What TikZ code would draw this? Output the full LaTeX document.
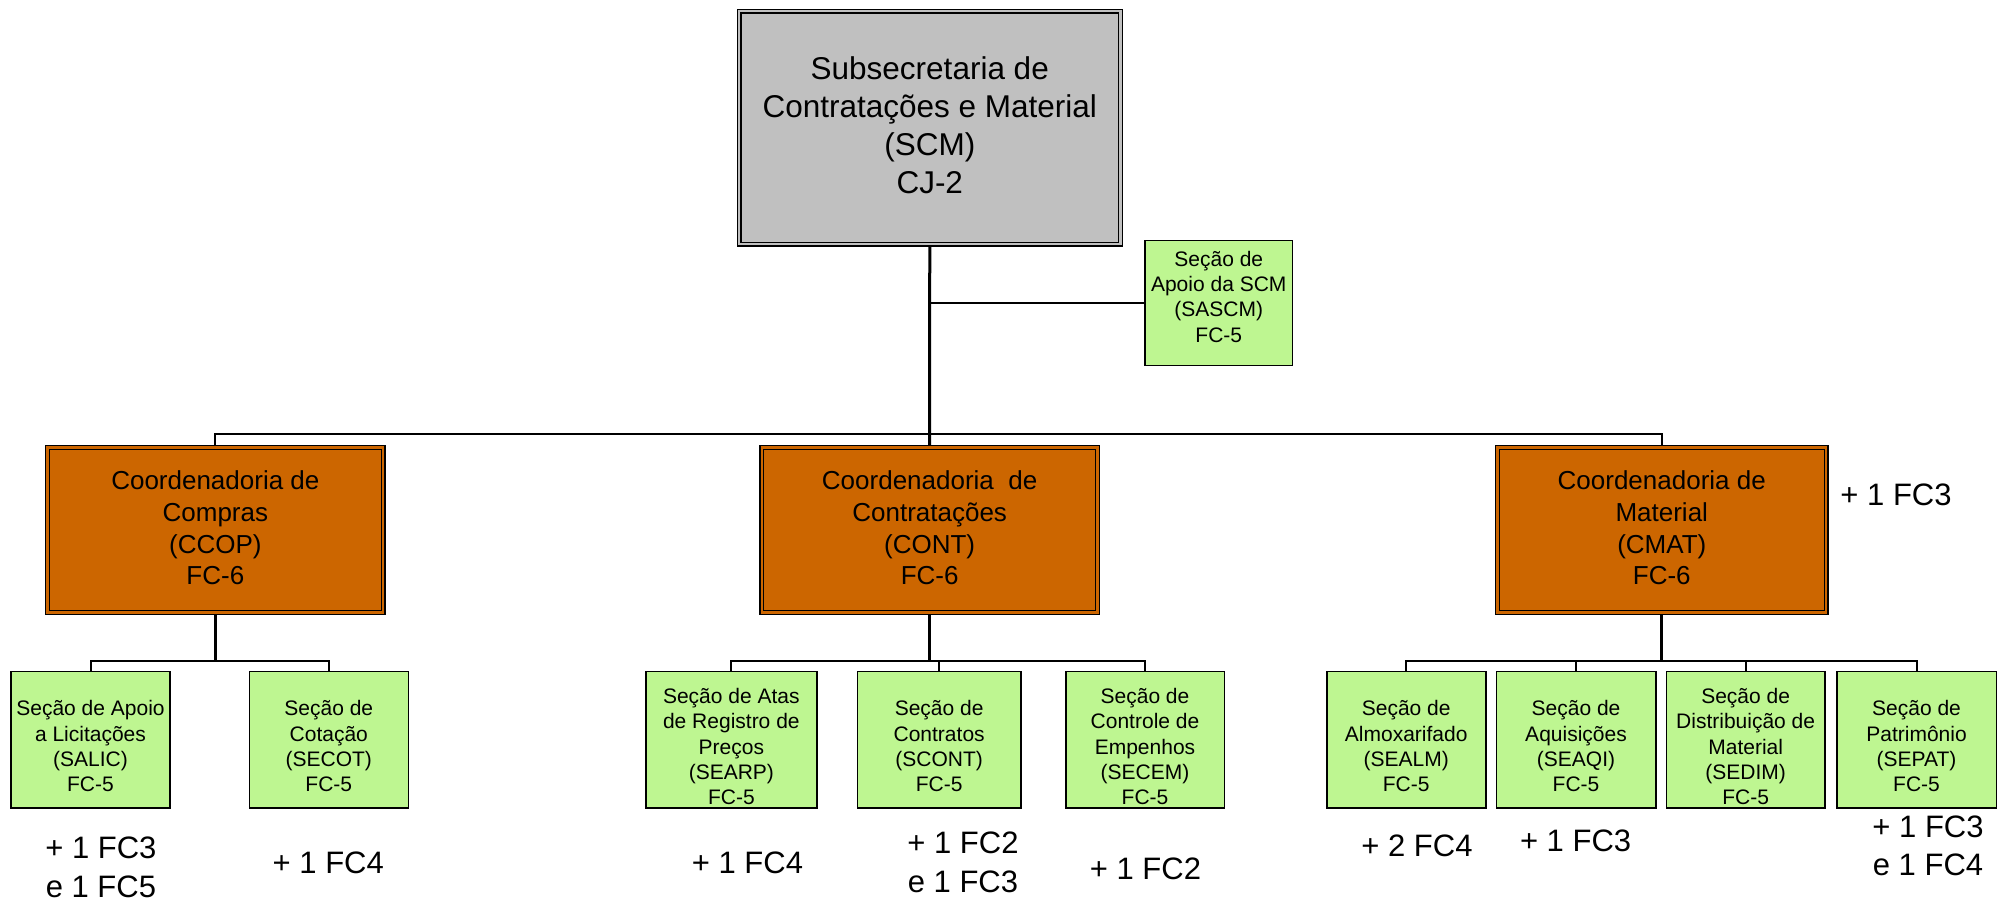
\documentclass[tikz,border=0pt]{standalone}
\usepackage{fontspec}
\setmainfont{Liberation Sans}
\pgfdeclarelayer{bg}
\pgfsetlayers{bg,main}
\definecolor{scmgray}{RGB}{192,192,192}
\definecolor{coordor}{RGB}{204,102,0}
\definecolor{secgreen}{RGB}{190,246,145}
\begin{document}
\begin{tikzpicture}[x=1pt,y=-1pt,
  dbox/.style={rectangle, draw=black, line width=1.3pt, double distance=2.4pt, inner sep=0pt},
  scmbox/.style={dbox, fill=scmgray, double=scmgray},
  coordbox/.style={dbox, fill=coordor, double=coordor, minimum height=165pt},
  secbox/.style={rectangle, draw=black, line width=1.6pt, fill=secgreen, inner sep=0pt, minimum height=136.2pt},
  scmtext/.style={align=center, inner sep=0pt, font=\fontsize{31.5}{38}\selectfont},
  coordtext/.style={align=center, inner sep=0pt, font=\fontsize{26}{31.7}\selectfont},
  sectext/.style={align=center, inner sep=0pt, font=\fontsize{21}{25.3}\selectfont},
  extratext/.style={align=center, inner sep=0pt, font=\fontsize{31}{38.5}\selectfont},
  thinline/.style={line width=2pt},
  thickline/.style={line width=3pt},
]
\path[use as bounding box] (0,0) rectangle (2009,903);

% top
\node[scmbox, minimum width=381.5pt, minimum height=233pt] (scm) at (929.75,127.5) {};
\node[scmtext] (scmT) at (929.75,125.5) {Subsecretaria de\\Contratações e Material\\(SCM)\\CJ-2};

\node[secbox, minimum width=147.5pt, minimum height=125pt] (sascm) at (1218.75,303) {};
\node[sectext] (sascmT) at (1218.75,296.7) {Seção de\\Apoio da SCM\\(SASCM)\\FC-5};

% coordinators
\node[coordbox, minimum width=335.7pt] (ccop) at (215.35,530) {};
\node[coordtext] (ccopT) at (215.35,528) {Coordenadoria de\\Compras\\(CCOP)\\FC-6};
\node[coordbox, minimum width=335.7pt] (cont) at (929.65,530) {};
\node[coordtext] (contT) at (929.65,528) {Coordenadoria~ de\\Contratações\\(CONT)\\FC-6};
\node[coordbox, minimum width=328.5pt] (cmat) at (1661.75,530) {};
\node[coordtext] (cmatT) at (1661.75,528) {Coordenadoria de\\Material\\(CMAT)\\FC-6};
\node[extratext] (xcmat) at (1896,495) {+ 1 FC3};

% sections
\node[secbox, minimum width=159pt] (salic) at (90.5,739.6) {};
\node[sectext] (salicT) at (90.5,746.4) {Seção de Apoio\\a Licitações\\(SALIC)\\FC-5};
\node[secbox, minimum width=159pt] (secot) at (328.8,739.6) {};
\node[sectext] (secotT) at (328.8,746.4) {Seção de\\Cotação\\(SECOT)\\FC-5};

\node[secbox, minimum width=170.7pt] (searp) at (731.35,739.6) {};
\node[sectext] (searpT) at (731.35,746.7) {Seção de Atas\\de Registro de\\Preços\\(SEARP)\\FC-5};
\node[secbox, minimum width=163.7pt] (scont) at (939.15,739.6) {};
\node[sectext] (scontT) at (939.15,746.4) {Seção de\\Contratos\\(SCONT)\\FC-5};
\node[secbox, minimum width=158.6pt] (secem) at (1145,739.6) {};
\node[sectext] (secemT) at (1145,746.7) {Seção de\\Controle de\\Empenhos\\(SECEM)\\FC-5};

\node[secbox, minimum width=159pt] (sealm) at (1406.2,739.6) {};
\node[sectext] (sealmT) at (1406.2,746.4) {Seção de\\Almoxarifado\\(SEALM)\\FC-5};
\node[secbox, minimum width=159.4pt] (seaqi) at (1576,739.6) {};
\node[sectext] (seaqiT) at (1576,746.4) {Seção de\\Aquisições\\(SEAQI)\\FC-5};
\node[secbox, minimum width=158.7pt] (sedim) at (1745.65,739.6) {};
\node[sectext] (sedimT) at (1745.65,746.7) {Seção de\\Distribuição de\\Material\\(SEDIM)\\FC-5};
\node[secbox, minimum width=159.6pt] (sepat) at (1916.5,739.6) {};
\node[sectext] (sepatT) at (1916.5,746.4) {Seção de\\Patrimônio\\(SEPAT)\\FC-5};

% extra labels
\node[extratext] (xsalic) at (100.9,867.4) {+ 1 FC3\\e 1 FC5};
\node[extratext] (xsecot) at (328.3,862.4) {+ 1 FC4};
\node[extratext] (xsearp) at (747.5,862.4) {+ 1 FC4};
\node[extratext] (xscont) at (963,862.4) {+ 1 FC2\\e 1 FC3};
\node[extratext] (xsecem) at (1145.5,868.4) {+ 1 FC2};
\node[extratext] (xsealm) at (1417,845.8) {+ 2 FC4};
\node[extratext] (xseaqi) at (1575.6,840.8) {+ 1 FC3};
\node[extratext] (xsepat) at (1928,845.7) {+ 1 FC3\\e 1 FC4};

% connectors
\coordinate (topbus) at (929.65,433.5);
\coordinate (cbus) at (0,660.5);
\begin{pgfonlayer}{bg}
\draw[thickline] (scm.south) -- (cont.north);
\draw[thinline] (scm.south |- sascm.west) -- (sascm.west);
\draw[thinline] (ccop.north) -- (ccop.north |- topbus) -- (cmat.north |- topbus) -- (cmat.north);

\draw[thickline] (ccop.south) -- (ccop.south |- cbus);
\draw[thinline] (salic.north) -- (salic.north |- cbus) -- (secot.north |- cbus) -- (secot.north);

\draw[thickline] (cont.south) -- (cont.south |- cbus);
\draw[thinline] (searp.north) -- (searp.north |- cbus) -- (secem.north |- cbus) -- (secem.north);
\draw[thinline] (scont.north) -- (scont.north |- cbus);

\draw[thickline] (cmat.south) -- (cmat.south |- cbus);
\draw[thinline] (sealm.north) -- (sealm.north |- cbus) -- (sepat.north |- cbus) -- (sepat.north);
\draw[thinline] (seaqi.north) -- (seaqi.north |- cbus);
\draw[thinline] (sedim.north) -- (sedim.north |- cbus);
\end{pgfonlayer}
\end{tikzpicture}
\end{document}
